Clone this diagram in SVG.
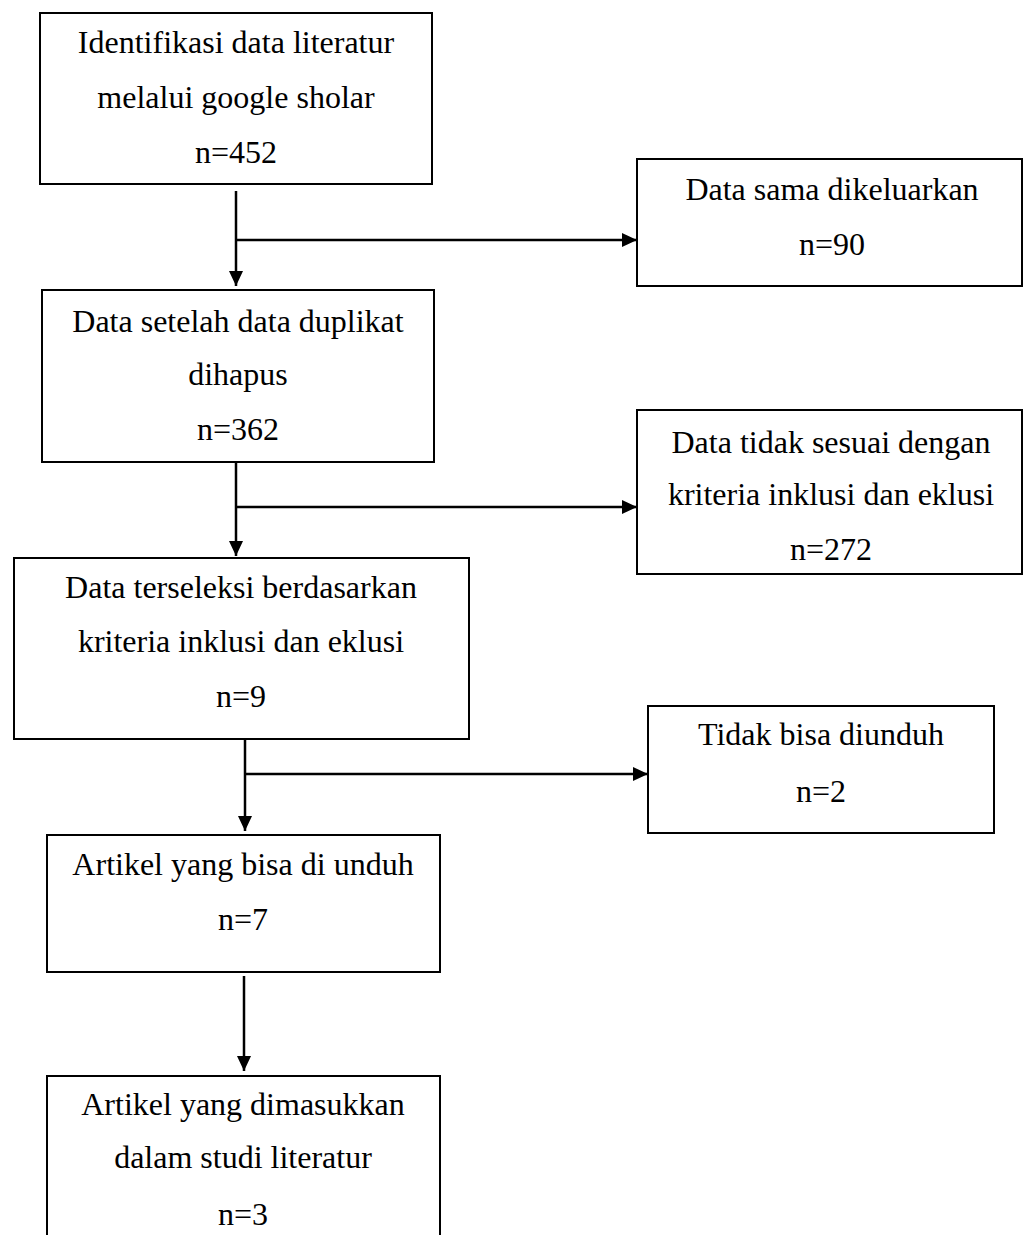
<svg xmlns="http://www.w3.org/2000/svg" width="1025" height="1235" viewBox="0 0 1025 1235">
<style>
.box{fill:#fff;stroke:#000;stroke-width:2}
.t{font-family:"Liberation Serif","Times New Roman",serif;font-size:32px;fill:#000;text-anchor:middle}
.c{fill:none;stroke:#000;stroke-width:2.5}
</style>
<defs>
<marker id="ah" markerUnits="userSpaceOnUse" markerWidth="16" markerHeight="16" viewBox="0 0 16 16" refX="15" refY="7" orient="auto">
<path d="M0,0 L15,7 L0,14 Z" fill="#000"/>
</marker>
</defs>
<rect width="1025" height="1235" fill="#fff"/>
<g id="connectors">
<line class="c" x1="236" y1="191" x2="236" y2="286" marker-end="url(#ah)"/>
<line class="c" x1="236" y1="240" x2="637" y2="240" marker-end="url(#ah)"/>
<line class="c" x1="236" y1="462" x2="236" y2="556" marker-end="url(#ah)"/>
<line class="c" x1="236" y1="507" x2="637" y2="507" marker-end="url(#ah)"/>
<line class="c" x1="245" y1="739" x2="245" y2="831" marker-end="url(#ah)"/>
<line class="c" x1="245" y1="774" x2="648" y2="774" marker-end="url(#ah)"/>
<line class="c" x1="244" y1="976" x2="244" y2="1071" marker-end="url(#ah)"/>
</g>
<g id="n1">
<rect class="box" x="40" y="13" width="392" height="171"/>
<text class="t" x="236" y="53">Identifikasi data literatur</text>
<text class="t" x="236" y="108">melalui google sholar</text>
<text class="t" x="236" y="163">n=452</text>
</g>
<g id="n2">
<rect class="box" x="637" y="159" width="385" height="127"/>
<text class="t" x="832" y="200">Data sama dikeluarkan</text>
<text class="t" x="832" y="255">n=90</text>
</g>
<g id="n3">
<rect class="box" x="42" y="290" width="392" height="172"/>
<text class="t" x="238" y="332">Data setelah data duplikat</text>
<text class="t" x="238" y="385">dihapus</text>
<text class="t" x="238" y="440">n=362</text>
</g>
<g id="n4">
<rect class="box" x="637" y="410" width="385" height="164"/>
<text class="t" x="831" y="453">Data tidak sesuai dengan</text>
<text class="t" x="831" y="505">kriteria inklusi dan eklusi</text>
<text class="t" x="831" y="560">n=272</text>
</g>
<g id="n5">
<rect class="box" x="14" y="558" width="455" height="181"/>
<text class="t" x="241" y="598">Data terseleksi berdasarkan</text>
<text class="t" x="241" y="652">kriteria inklusi dan eklusi</text>
<text class="t" x="241" y="707">n=9</text>
</g>
<g id="n6">
<rect class="box" x="648" y="706" width="346" height="127"/>
<text class="t" x="821" y="745">Tidak bisa diunduh</text>
<text class="t" x="821" y="802">n=2</text>
</g>
<g id="n7">
<rect class="box" x="47" y="835" width="393" height="137"/>
<text class="t" x="243" y="875">Artikel yang bisa di unduh</text>
<text class="t" x="243" y="930">n=7</text>
</g>
<g id="n8">
<rect class="box" x="47" y="1076" width="393" height="170"/>
<text class="t" x="243" y="1115">Artikel yang dimasukkan</text>
<text class="t" x="243" y="1168">dalam studi literatur</text>
<text class="t" x="243" y="1225">n=3</text>
</g>
</svg>
